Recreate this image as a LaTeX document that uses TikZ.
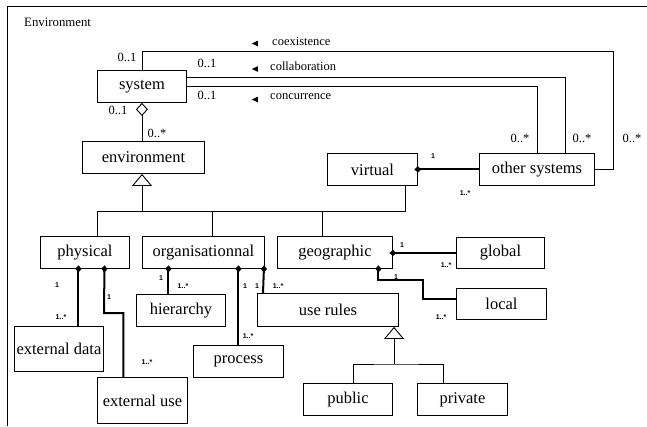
\documentclass[tikz,border=0pt]{standalone}
\usepackage{fontspec}
\setmainfont{Liberation Serif}
\newfontfamily\labelsans{Liberation Sans}
\usetikzlibrary{arrows.meta,shapes.geometric}
\begin{document}
\begin{tikzpicture}[x=1pt,y=-1pt,
  cls/.style={draw, line width=0.9pt, inner sep=0pt, anchor=north west,
    font=\fontsize{16.5}{18}\selectfont},
  mult/.style={inner sep=0pt, font=\fontsize{12.5}{14}\selectfont},
  role/.style={inner sep=0pt, anchor=west, font=\fontsize{12.5}{14}\selectfont},
  card/.style={inner sep=0pt, font=\labelsans\bfseries\fontsize{7}{8}\selectfont},
  dirtip/.style={isosceles triangle, isosceles triangle stretches, fill,
    shape border rotate=180, inner sep=0pt, minimum height=6pt, minimum width=5.5pt},
  link/.style={line width=0.9pt},
  comp/.style={line width=2pt, shorten >=-3.5pt,
    -{Diamond[length=7pt,width=6pt,line width=0.4pt]}},
  aggr/.style={line width=0.9pt, -{Diamond[open,length=13pt,width=12pt,line width=0.9pt]}},
  inh/.style={line width=0.9pt, -{Triangle[open,length=12pt,width=20pt,line width=0.9pt]}}
]
\useasboundingbox (0,0) rectangle (647,426);

% frame of the package
\draw[line width=0.9pt] (7,426) -- (7,6) -- (647,6);
\node[anchor=west, inner sep=0pt, font=\fontsize{12.8}{14}\selectfont] (title) at (24,22) {Environment};

% classes
\node[cls, minimum width=89pt,  minimum height=32pt] (sys)  at (97,70)   {system};
\node[cls, minimum width=122pt, minimum height=32pt] (env)  at (82,141)  {environment};
\node[cls, minimum width=90pt,  minimum height=32pt] (virt) at (327,153) {virtual};
\node[cls, minimum width=115pt, minimum height=32pt] (oth)  at (479,153) {other systems};
\node[cls, minimum width=89pt,  minimum height=32pt] (phys) at (40,236)  {physical};
\node[cls, minimum width=122pt, minimum height=32pt] (org)  at (142,236) {organisationnal};
\node[cls, minimum width=115pt, minimum height=32pt] (geo)  at (277,236) {geographic};
\node[cls, minimum width=88pt,  minimum height=31pt] (glob) at (456,237) {global};
\node[cls, minimum width=90pt,  minimum height=31pt] (loc)  at (456,288) {local};
\node[cls, minimum width=141pt, minimum height=33pt] (ur)   at (257,293) {use rules};
\node[cls, minimum width=89pt,  minimum height=32pt] (hier) at (136,294) {hierarchy};
\node[cls, minimum width=90pt,  minimum height=32pt] (proc) at (193,345) {process};
\node[cls, minimum width=89pt,  minimum height=45pt] (ed)   at (14,326)  {external data};
\node[cls, minimum width=90pt,  minimum height=46pt] (eu)   at (97,377)  {external use};
\node[cls, minimum width=89pt,  minimum height=32pt] (pub)  at (303,383) {public};
\node[cls, minimum width=90pt,  minimum height=32pt] (priv) at (417,383) {private};

% associations between system and other systems
\draw[link] (sys.north) |- (613,51) |- (oth.east);
\draw[link] ([yshift=9pt]sys.east) -| ([xshift=28.5pt]oth.north);
\draw[link] (sys.east) -| (oth.north);

\node[mult] (m1) at (127,57) {0..1};
\node[mult] (m2) at (207,63) {0..1};
\node[mult] (m3) at (207,95) {0..1};
\node[mult] (m4) at (520,138) {0..*};
\node[mult] (m5) at (582,138) {0..*};
\node[mult] (m6) at (632,138) {0..*};

\node[dirtip] (d1) at (256,43.5) {};
\node[dirtip] (d2) at (256,69) {};
\node[dirtip] (d3) at (256,99.5) {};
\node[role] (r1) at (272,41) {coexistence};
\node[role] (r2) at (270,66) {collaboration};
\node[role] (r3) at (270,97) {concurrence};

% aggregation system - environment
\draw[aggr] (env.north -| sys.south) -- (sys.south);
\node[mult] (m7) at (118,110) {0..1};
\node[mult] (m8) at (157,133) {0..*};

% specialisation of environment
\coordinate (bus) at (142,211);
\coordinate (b1) at (97,211);
\coordinate (b2) at (212,211);
\coordinate (b3) at (322,211);
\coordinate (b4) at (405,211);
\draw[inh] (bus) -- (bus |- env.south);
\draw[link] (b1 |- phys.north) -- (b1) -- (b4) -- (b4 |- virt.south);
\draw[link] (b2) -- (b2 |- org.north);
\draw[link] (b3) -- (b3 |- geo.north);

% virtual - other systems
\draw[comp] (oth.west) -- (virt.east);
\node[card] (c1) at (433,156) {1};
\node[card] (c2) at (465,193) {1..*};

% physical
\draw[comp] ([xshift=19.5pt]ed.north) -- ([xshift=-6.5pt]phys.south);
\node[card] (c3) at (57,285) {1};
\node[card] (c4) at (61,317) {1..*};
\draw[comp] ([xshift=-19pt]eu.north) |- (104,313) -- ([xshift=19.5pt]phys.south);
\node[card] (c5) at (109,297) {1};
\node[card] (c6) at (147,362) {1..*};

% organisationnal
\draw[comp] ([xshift=-12.5pt]hier.north) -- ([xshift=-35pt]org.south);
\node[card] (c7) at (161,278) {1};
\node[card] (c8) at (183,286) {1..*};
\draw[comp] (proc.north) -- (proc.north |- org.south);
\node[card] (c9) at (245,286) {1};
\node[card] (c10) at (248,336) {1..*};
\draw[comp] ([xshift=6pt]ur.north west) -- ([xshift=-1pt]org.south east);
\node[card] (c11) at (257,286) {1};
\node[card] (c12) at (278,286) {1..*};

% geographic
\draw[comp] (glob.west) -- (glob.west -| geo.east);
\node[card] (c13) at (402,245) {1};
\node[card] (c14) at (446,265) {1..*};
\draw[comp] ([yshift=4.5pt]loc.west) -| (423,280) -| ([xshift=43.5pt]geo.south);
\node[card] (c15) at (396,277) {1};
\node[card] (c16) at (441,317) {1..*};

% specialisation of use rules
\coordinate (ubus) at (394,364);
\draw[inh] (ubus) -- (ubus |- ur.south);
\draw[link] ([xshift=5.5pt]pub.north) |- (ubus) -| ([xshift=-19pt]priv.north);
\end{tikzpicture}
\end{document}
